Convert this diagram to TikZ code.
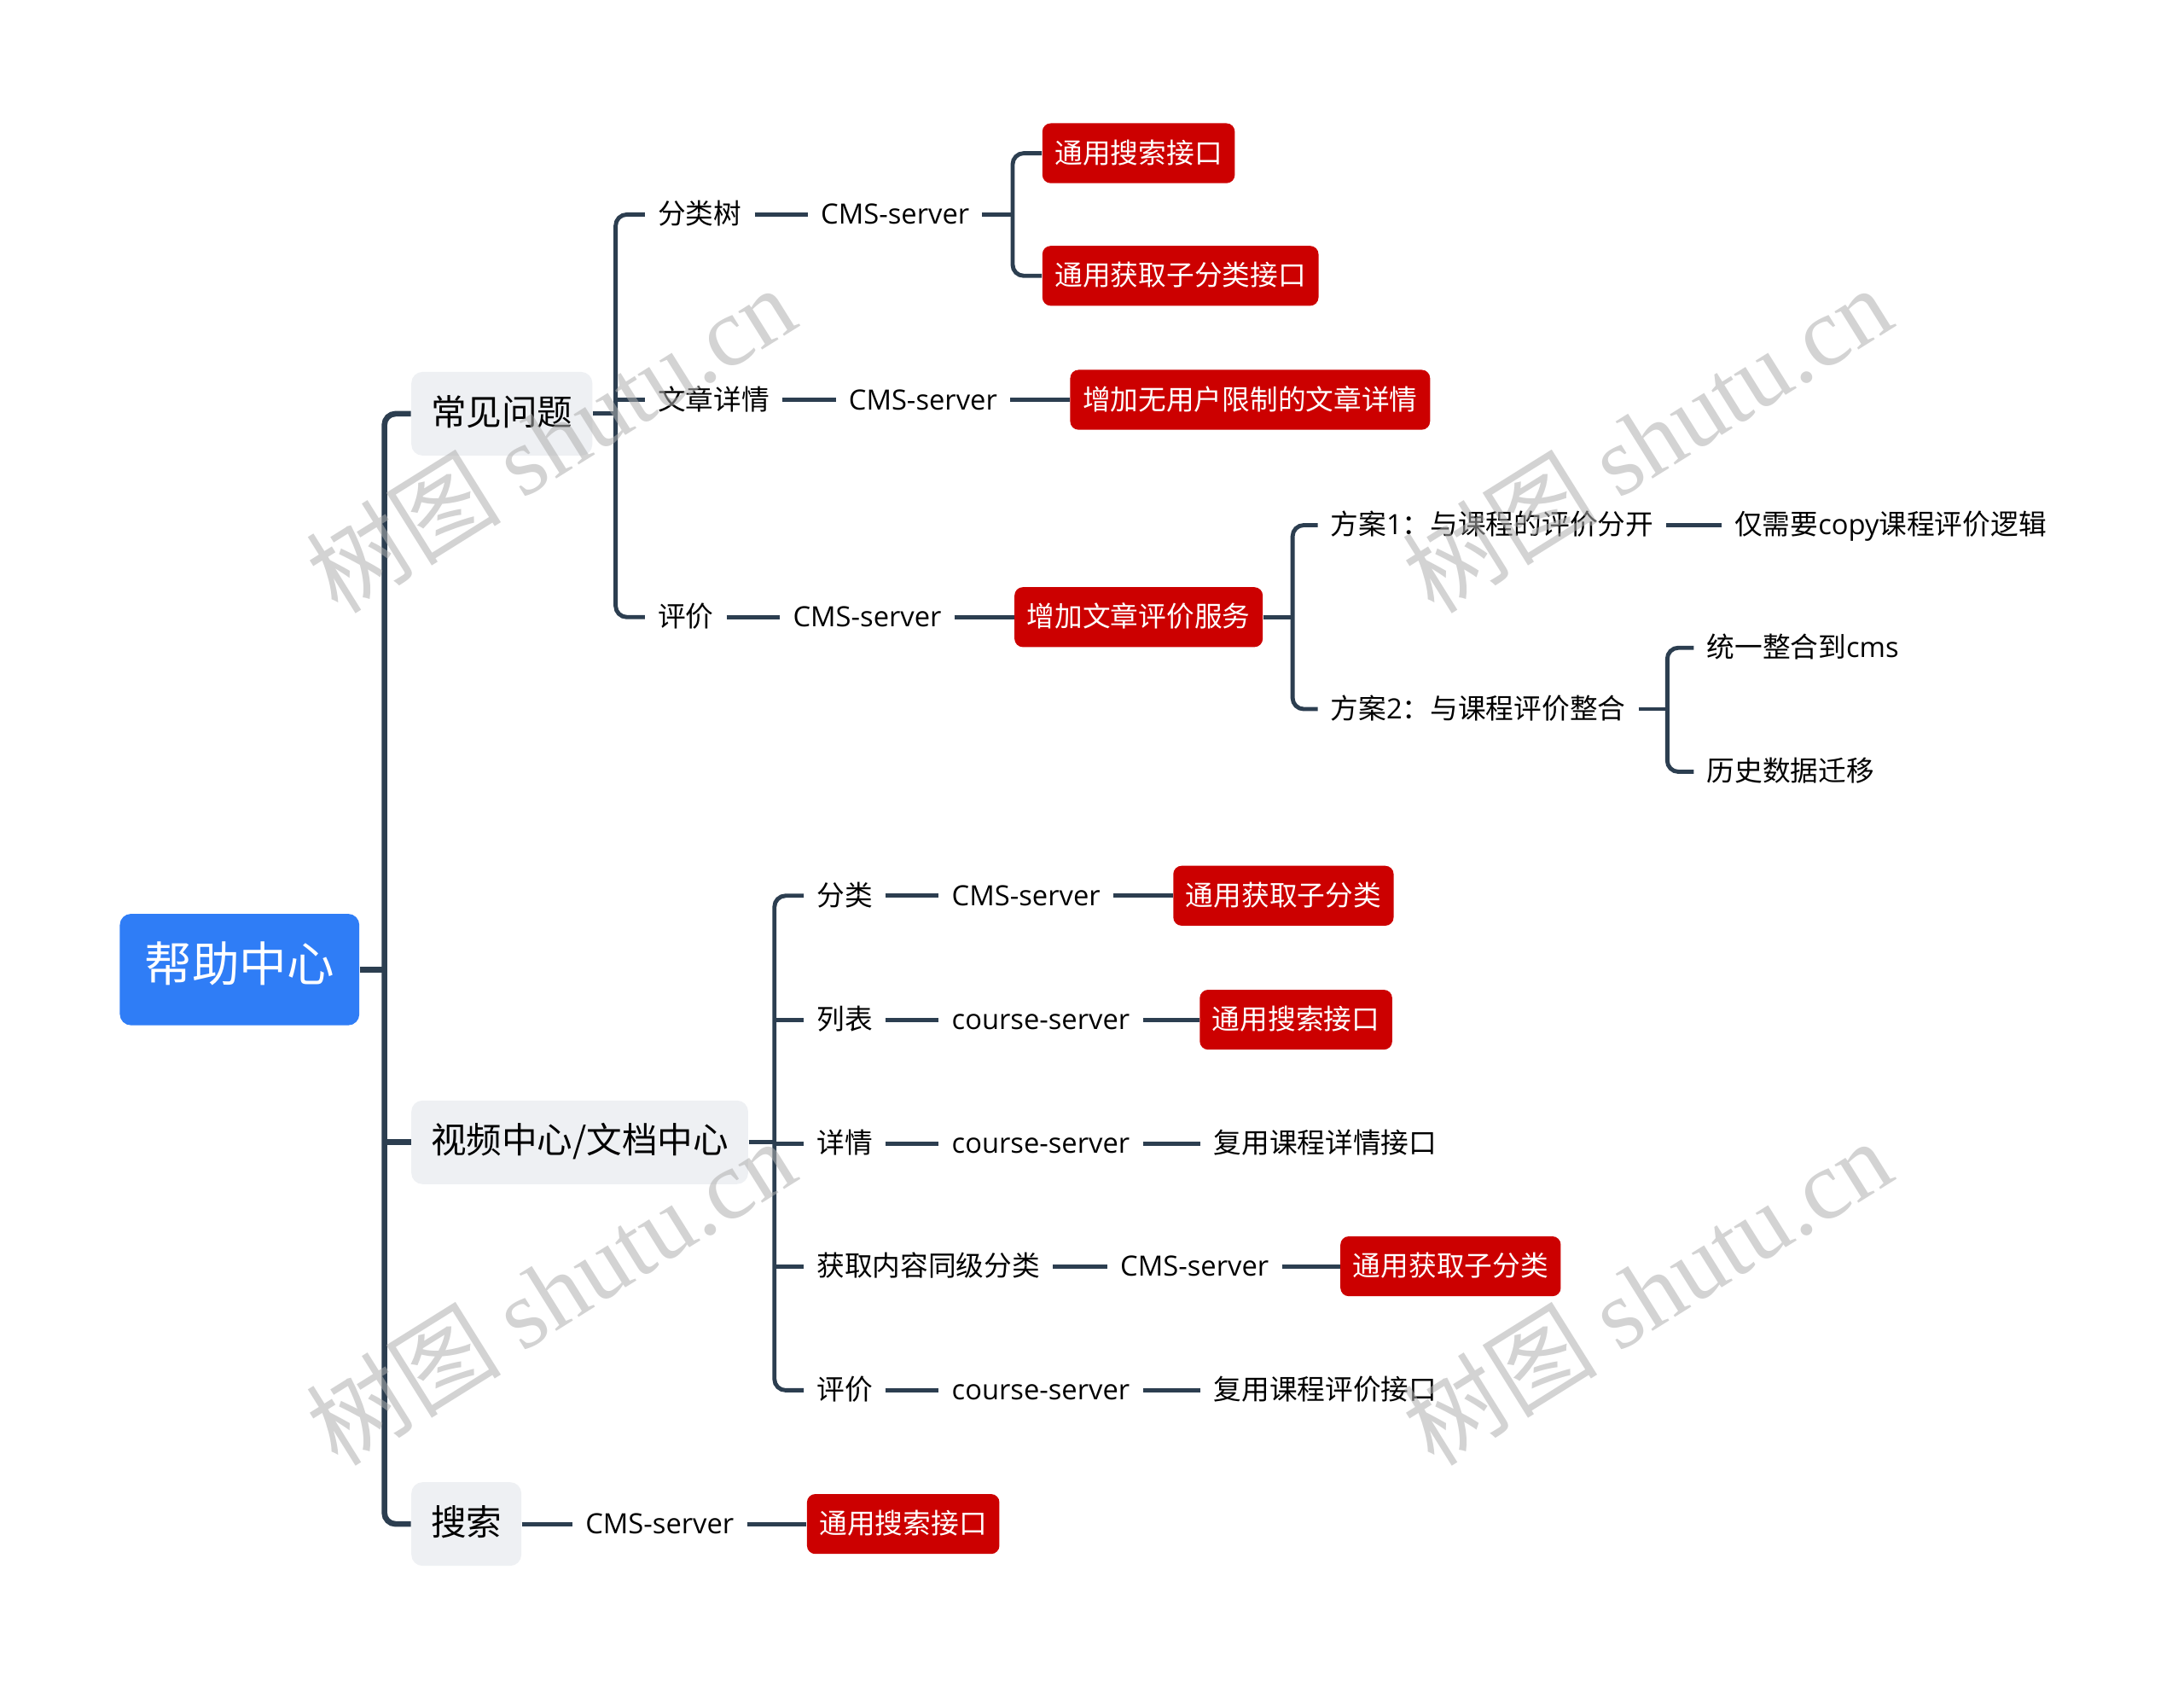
\documentclass[tikz,border=0pt]{standalone}
\usepackage{fontspec}
\setmainfont{Noto Sans CJK SC}
\newfontfamily\latfont{Open Sans}
\newfontfamily\wmserif{Liberation Serif}
\newfontfamily\wmcjk{Noto Sans CJK SC}
\newcommand\LT[1]{{\latfont #1}}
\definecolor{rootblue}{RGB}{47,125,246}
\definecolor{branchgray}{RGB}{238,240,243}
\definecolor{redfill}{RGB}{204,0,0}
\definecolor{linecol}{RGB}{44,62,80}
\definecolor{wmcol}{RGB}{175,175,175}
\tikzset{
  rootbox/.style={fill=rootblue, text=white, rounded corners=0.16cm, minimum width=3.44cm, minimum height=1.6cm, inner sep=0pt, text height=1.0em, text depth=0.0em, font=\fontsize{19.4}{22}\selectfont},
  branchbox/.style={fill=branchgray, rounded corners=0.16cm, minimum height=1.2cm, inner xsep=0.28cm, inner ysep=0pt, anchor=west, text height=0.96em, text depth=0.04em, font=\fontsize{14.5}{17}\selectfont},
  redbox/.style={fill=redfill, text=white, rounded corners=0.12cm, minimum height=0.86cm, inner xsep=0.18cm, inner ysep=0pt, anchor=west, text height=0.9em, text depth=0.1em, font=\fontsize{11.4}{13}\selectfont},
  txtnode/.style={inner xsep=0.18cm, inner ysep=0.08cm, anchor=west, text height=0.9em, text depth=0.1em, font=\fontsize{11.4}{13}\selectfont},
  conn/.style={draw=linecol, line width=1.7pt},
  trunkline/.style={draw=linecol, line width=2.3pt},
  wmark/.style={text=wmcol, opacity=0.55, rotate=32, inner sep=0pt, font=\fontsize{40}{48}\selectfont}
}
\begin{document}
\begin{tikzpicture}[x=0.02cm, y=-0.02cm]
\fill[white] (0,0) rectangle (1568,1210);
\useasboundingbox (0,0) rectangle (1568,1210);

% root and main branches
\node[rootbox] (root) at (172,696) {帮助中心};
\node[branchbox] (b1) at (295,297) {常见问题};
\node[branchbox] (b2) at (295,820) {视频中心/文档中心};
\node[branchbox] (b3) at (295,1094) {搜索};
\coordinate (t) at (276,696);
\draw[trunkline] (root.east) -- (t);
\draw[trunkline, rounded corners=0.16cm] (b1.west) -- (b1.west -| t) -- (b3.west -| t) -- (b3.west);
\draw[trunkline] (b2.west -| t) -- (b2.west);

% group 1: 常见问题
\coordinate (v1) at (442,297);
\draw[conn] (b1.east) -- (b1.east -| v1);
\node[txtnode] (c1) at (463,154) {分类树};
\node[txtnode] (c2) at (463,287) {文章详情};
\node[txtnode] (c3) at (463,443) {评价};
\draw[conn, rounded corners=0.16cm] (c1.west) -- (c1.west -| v1) -- (c3.west -| v1) -- (c3.west);
\draw[conn] (c2.west) -- (c2.west -| v1);

\node[txtnode] (s1) at (580,154) {\LT{CMS-server}};
\draw[conn] (c1.east) -- (s1.west);
\coordinate (v2) at (727,154);
\draw[conn] (s1.east) -- (v2);
\node[redbox] (r1) at (748,110) {通用搜索接口};
\node[redbox] (r2) at (748,198) {通用获取子分类接口};
\draw[conn, rounded corners=0.16cm] (r1.west) -- (r1.west -| v2) -- (r2.west -| v2) -- (r2.west);

\node[txtnode] (s2) at (600,287) {\LT{CMS-server}};
\node[redbox] (r3) at (768,287) {增加无用户限制的文章详情};
\draw[conn] (c2.east) -- (s2.west);
\draw[conn] (s2.east) -- (r3.west);

\node[txtnode] (s3) at (560,443) {\LT{CMS-server}};
\node[redbox] (r4) at (728,443) {增加文章评价服务};
\draw[conn] (c3.east) -- (s3.west);
\draw[conn] (s3.east) -- (r4.west);
\coordinate (v3) at (928,443);
\draw[conn] (r4.east) -- (v3);
\node[txtnode] (p1) at (946,377) {方案\LT{1}：与课程的评价分开};
\node[txtnode] (p2) at (946,509) {方案\LT{2}：与课程评价整合};
\draw[conn, rounded corners=0.16cm] (p1.west) -- (p1.west -| v3) -- (p2.west -| v3) -- (p2.west);
\node[txtnode] (q1) at (1236,377) {仅需要\LT{copy}课程评价逻辑};
\draw[conn] (p1.east) -- (q1.west);
\coordinate (v4) at (1197,509);
\draw[conn] (p2.east) -- (v4);
\node[txtnode] (q2) at (1216,465) {统一整合到\LT{cms}};
\node[txtnode] (q3) at (1216,554) {历史数据迁移};
\draw[conn, rounded corners=0.16cm] (q2.west) -- (q2.west -| v4) -- (q3.west -| v4) -- (q3.west);

% group 2: 视频中心/文档中心
\coordinate (v5) at (556,820);
\draw[conn] (b2.east) -- (b2.east -| v5);
\node[txtnode] (d1) at (577,643) {分类};
\node[txtnode] (d2) at (577,732) {列表};
\node[txtnode] (d3) at (577,821) {详情};
\node[txtnode] (d4) at (577,909) {获取内容同级分类};
\node[txtnode] (d5) at (577,998) {评价};
\draw[conn, rounded corners=0.16cm] (d1.west) -- (d1.west -| v5) -- (d5.west -| v5) -- (d5.west);
\draw[conn] (d2.west) -- (d2.west -| v5);
\draw[conn] (d3.west) -- (d3.west -| v5);
\draw[conn] (d4.west) -- (d4.west -| v5);

\node[txtnode] (e1) at (674,643) {\LT{CMS-server}};
\node[redbox] (f1) at (842,643) {通用获取子分类};
\draw[conn] (d1.east) -- (e1.west);
\draw[conn] (e1.east) -- (f1.west);

\node[txtnode] (e2) at (674,732) {\LT{course-server}};
\node[redbox] (f2) at (861,732) {通用搜索接口};
\draw[conn] (d2.east) -- (e2.west);
\draw[conn] (e2.east) -- (f2.west);

\node[txtnode] (e3) at (674,821) {\LT{course-server}};
\node[txtnode] (g3) at (862,821) {复用课程详情接口};
\draw[conn] (d3.east) -- (e3.west);
\draw[conn] (e3.east) -- (g3.west);

\node[txtnode] (e4) at (795,909) {\LT{CMS-server}};
\node[redbox] (f4) at (962,909) {通用获取子分类};
\draw[conn] (d4.east) -- (e4.west);
\draw[conn] (e4.east) -- (f4.west);

\node[txtnode] (e5) at (674,998) {\LT{course-server}};
\node[txtnode] (g5) at (862,998) {复用课程评价接口};
\draw[conn] (d5.east) -- (e5.west);
\draw[conn] (e5.east) -- (g5.west);

% group 3: 搜索
\node[txtnode] (h1) at (411,1094) {\LT{CMS-server}};
\node[redbox] (h2) at (579,1094) {通用搜索接口};
\draw[conn] (b3.east) -- (h1.west);
\draw[conn] (h1.east) -- (h2.west);

% watermarks
\node[wmark] (w1) at (395,315) {{\wmcjk 树图} {\wmserif shutu.cn}};
\node[wmark] (w2) at (1182,315) {{\wmcjk 树图} {\wmserif shutu.cn}};
\node[wmark] (w3) at (395,927) {{\wmcjk 树图} {\wmserif shutu.cn}};
\node[wmark] (w4) at (1182,927) {{\wmcjk 树图} {\wmserif shutu.cn}};
\end{tikzpicture}
\end{document}
